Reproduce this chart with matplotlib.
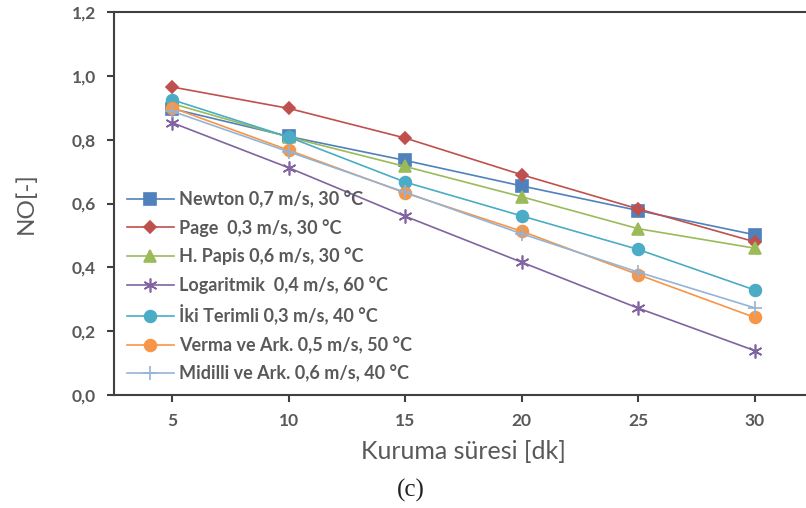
import matplotlib
matplotlib.use("Agg")
import matplotlib.pyplot as plt

plt.rcParams['font.family'] = ['Lato', 'DejaVu Sans']

sure = [5, 10, 15, 20, 25, 30]

newton = [0.897, 0.810, 0.735, 0.655, 0.578, 0.502]
page = [0.965, 0.898, 0.805, 0.690, 0.583, 0.480]
papis = [0.913, 0.808, 0.716, 0.621, 0.521, 0.460]
logaritmik = [0.853, 0.712, 0.560, 0.416, 0.272, 0.139]
iki_terimli = [0.925, 0.808, 0.667, 0.561, 0.456, 0.329]
verma = [0.900, 0.767, 0.633, 0.513, 0.377, 0.243]
midilli = [0.889, 0.762, 0.635, 0.505, 0.385, 0.273]

etiketler = [
    "Newton 0,7 m/s, 30 °C",
    "Page  0,3 m/s, 30 °C",
    "H. Papis 0,6 m/s, 30 °C",
    "Logaritmik  0,4 m/s, 60 °C",
    "İki Terimli 0,3 m/s, 40 °C",
    "Verma ve Ark. 0,5 m/s, 50 °C",
    "Midilli ve Ark. 0,6 m/s, 40 °C",
]

yticks = [0.0, 0.2, 0.4, 0.6, 0.8, 1.0, 1.2]
ytick_labels = ["0,0", "0,2", "0,4", "0,6", "0,8", "1,0", "1,2"]

seriler = [newton, page, papis, logaritmik, iki_terimli, verma, midilli]
renkler = ["#4F81BD", "#C0504D", "#9BBB59", "#8064A2", "#4BACC6", "#F79646", "#95B3D7"]
markerler = ["s", "D", "^", (6, 2, 0), "o", "o", "+"]
msizes = [8, 6, 8, 10, 8.5, 8.5, 10]

gri = "#595959"

fig = plt.figure(figsize=(8.06, 5.08), dpi=100)
ax = fig.add_axes([114 / 806, 1 - 395 / 508, 699 / 806, 383 / 508])

for y, lab, c, m, ms in zip(seriler, etiketler, renkler, markerler, msizes):
    ax.plot(sure, y, color=c, marker=m, markersize=ms, linewidth=1.2,
            markeredgecolor=c, markeredgewidth=1.2, label=lab)

ax.set_xlim(2.5, 32.5)
ax.set_ylim(0, 1.2)
ax.set_xticks(sure)
ax.set_yticks(yticks)
ax.set_yticklabels(ytick_labels)

for s in ["left", "bottom", "top"]:
    ax.spines[s].set_color("#404040")
    ax.spines[s].set_linewidth(1.5)
ax.spines["right"].set_visible(False)

ax.tick_params(axis="both", direction="out", length=5, width=1.5, color="#404040",
               labelcolor=gri, labelsize=12.5)
ax.tick_params(axis="y", pad=8)
ax.tick_params(axis="x", pad=8)
for t in ax.get_xticklabels() + ax.get_yticklabels():
    t.set_fontweight("bold")

ax.set_ylabel("NO[-]", color=gri, fontsize=17.5, labelpad=25)
ax.set_xlabel("Kuruma süresi [dk]", color=gri, fontsize=18, labelpad=8)

leg = ax.legend(loc="lower left", bbox_to_anchor=(0.0, 0.0), frameon=False,
                prop={"size": 13, "weight": "bold"}, handlelength=2.6,
                handletextpad=0.3, labelspacing=0.6, borderaxespad=0.3)
for t in leg.get_texts():
    t.set_color(gri)

fig.text(411 / 806, 1 - 490 / 508, "(c)", fontsize=18, family="Liberation Serif",
         ha="center", va="center", color="#222222")

fig.savefig("out.png", dpi=100)
